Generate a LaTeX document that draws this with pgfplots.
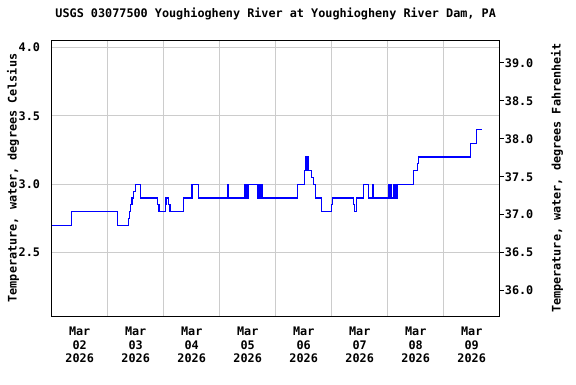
\documentclass[border=0pt]{standalone}
\usepackage{fontspec}
\setmainfont{DejaVu Sans Mono}
\usepackage{pgfplots}
\pgfplotsset{compat=1.18}
\definecolor{gridgray}{RGB}{204,204,204}
\definecolor{usgsblue}{RGB}{0,0,255}
\definecolor{usgsred}{RGB}{255,0,0}
\newcommand{\uf}{\fontsize{11.8}{13.5}\selectfont\bfseries}
\begin{document}
\begin{tikzpicture}
\path[use as bounding box] (-51.7pt,-68pt) rectangle (524.3pt,316pt);
\begin{axis}[
  at={(0pt,0pt)}, anchor=south west,
  scale only axis, width=448pt, height=276pt,
  xmin=0, xmax=8, ymin=2.0366, ymax=4.0556,
  xtick={0.5,1.5,...,7.5},
  xticklabels={{Mar\\02\\2026},{Mar\\03\\2026},{Mar\\04\\2026},{Mar\\05\\2026},{Mar\\06\\2026},{Mar\\07\\2026},{Mar\\08\\2026},{Mar\\09\\2026}},
  minor xtick={1,2,...,7},
  ytick={2.5,3.0,3.5,4.0},
  ymajorgrids, xminorgrids,
  major grid style={gridgray, line width=1pt},
  minor grid style={gridgray, line width=1pt},
  major tick length=0pt, minor tick length=0pt,
  axis line style={black, line width=1pt},
  tick label style={font=\uf},
  xticklabel style={align=center, anchor=north, inner sep=0pt, yshift=-11pt},
  yticklabel style={anchor=east, inner sep=0pt, xshift=-11.5pt},
  /pgf/number format/.cd, fixed, fixed zerofill, precision=1, assume math mode=true,
  /pgfplots/.cd,
  title={USGS 03077500 Youghiogheny River at Youghiogheny River Dam, PA},
  title style={at={(axis description cs:0.5,1)}, anchor=center, yshift=20pt, font=\uf},
  ylabel={Temperature, water, degrees Celsius},
  ylabel style={at={(axis description cs:-0.0864,0.5)}, anchor=center, font=\uf},
  clip=true,
]
\addplot[const plot, draw=usgsblue, line width=1.1pt, mark=none] coordinates {
(0,2.7) (0.350,2.8) (1.175,2.7) (1.368,2.75) (1.389,2.8) (1.411,2.85) (1.434,2.9)
(1.457,2.95) (1.493,3.0) (1.589,2.9) (1.893,2.85) (1.916,2.8) (2.029,2.85) (2.041,2.9)
(2.089,2.85) (2.113,2.8) (2.350,2.9) (2.505,3.0) (2.625,2.9) (3.136,3.0) (3.148,2.95)
(3.161,2.9) (3.443,3.0) (3.461,2.9) (3.479,3.0) (3.493,2.9) (3.511,3.0) (3.671,2.9)
(3.689,3.0) (3.702,2.9) (3.716,3.0) (3.734,2.9) (3.746,3.0) (3.761,2.9) (4.386,3.0)
(4.518,3.1) (4.529,3.2) (4.546,3.1) (4.559,3.2) (4.579,3.1) (4.643,3.05) (4.671,3.0)
(4.707,2.9) (4.818,2.8) (4.996,2.85) (5.018,2.9) (5.386,2.85) (5.404,2.8) (5.439,2.9)
(5.564,3.0) (5.661,2.9) (5.725,3.0) (5.738,2.95) (5.750,2.9) (6.023,3.0) (6.036,2.9)
(6.054,3.0) (6.068,2.9) (6.104,3.0) (6.118,2.9) (6.130,3.0) (6.143,2.9) (6.154,3.0)
(6.166,2.9) (6.175,3.0) (6.457,3.1) (6.529,3.15) (6.546,3.2) (7.479,3.3) (7.586,3.4)
(7.684,3.4)
};
\node[font=\uf, text=usgsred, anchor=center] at (axis description cs:0.5,-0.217) {---{}- Provisional Data Subject to Revision ---{}-};
\end{axis}
\begin{axis}[
  at={(0pt,0pt)}, anchor=south west,
  scale only axis, width=448pt, height=276pt,
  xmin=0, xmax=8, ymin=35.666, ymax=39.300,
  axis x line=none, axis y line*=right,
  ytick={36,36.5,...,39},
  tick align=outside, major tick length=4pt,
  ytick style={black, line width=1pt},
  axis line style={black, line width=1pt},
  tick label style={font=\uf},
  yticklabel style={anchor=west, inner sep=0pt, xshift=1pt},
  /pgf/number format/.cd, fixed, fixed zerofill, precision=1, assume math mode=true,
  /pgfplots/.cd,
  ylabel={Temperature, water, degrees Fahrenheit},
  ylabel style={at={(axis description cs:1.128,0.5)}, anchor=center, font=\uf},
]
\addplot[draw=none] coordinates {(0,36)};
\end{axis}
\end{tikzpicture}
\end{document}
